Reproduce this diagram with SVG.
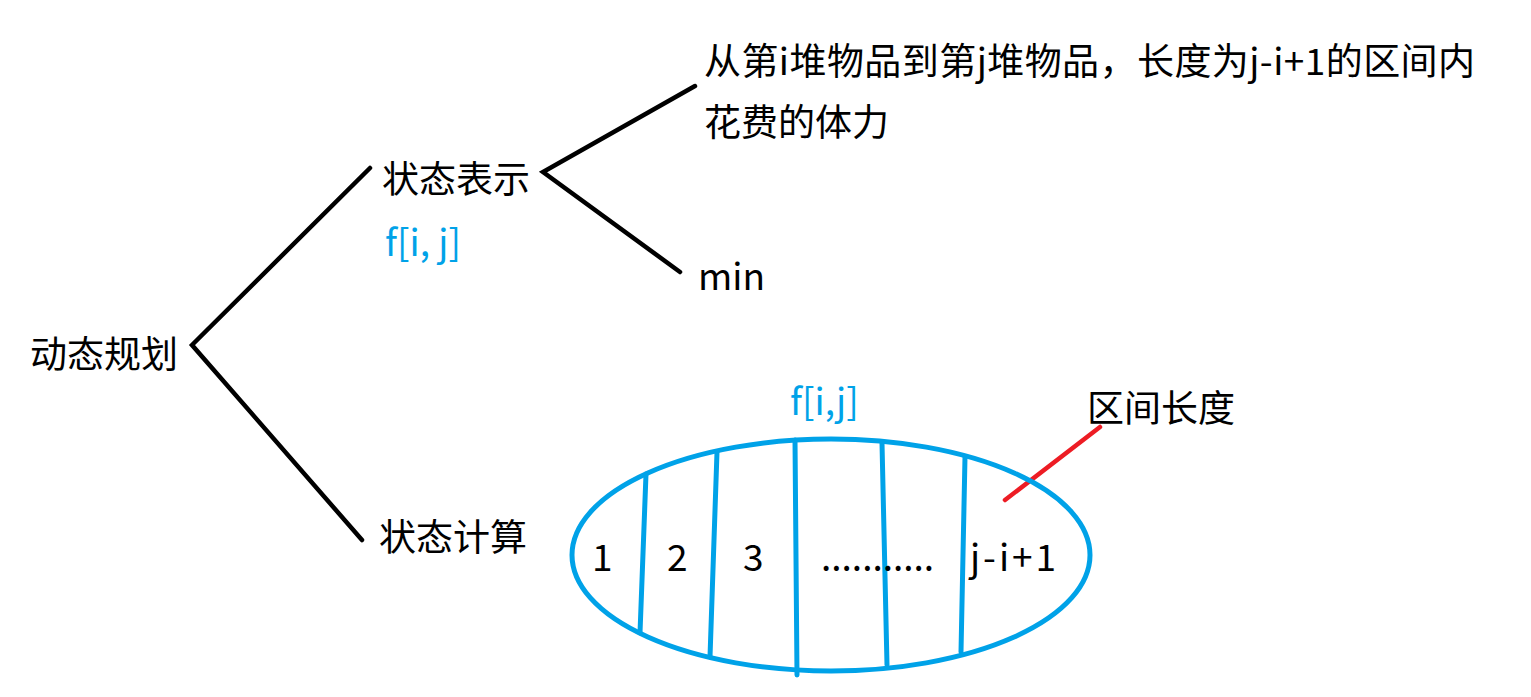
<svg xmlns="http://www.w3.org/2000/svg" width="1531" height="697" viewBox="0 0 1531 697">
<style>
text{font-family:"Noto Sans CJK SC","Noto Sans",sans-serif;font-size:37px;fill:#000}
.b{fill:#00a2e8}
.k{stroke:#000;stroke-width:4.5;fill:none;stroke-linecap:round}
.c{stroke:#00a2e8;stroke-width:5;fill:none;stroke-linecap:round}
.r{stroke:#ed1c24;stroke-width:4.5;fill:none;stroke-linecap:round}
</style>
<rect width="1531" height="697" fill="#fff"/>
<g id="connectors">
<path class="k" d="M370 168 L192 345 L362 540"/>
<path class="k" d="M695 86 L543 172 L680 272"/>
<path class="r" d="M1005 500 L1100 427"/>
</g>
<g id="root"><text x="30" y="368">动态规划</text></g>
<g id="repr">
<text x="382" y="193">状态表示</text>
<text class="b" x="385" y="256" font-size="32">f[i, j]</text>
</g>
<g id="desc">
<text x="704" y="75" textLength="771">从第i堆物品到第j堆物品，长度为j-i+1的区间内</text>
<text x="704" y="136">花费的体力</text>
</g>
<g id="min"><text x="698" y="290">min</text></g>
<g id="calc"><text x="379" y="551">状态计算</text></g>
<g id="interval">
<ellipse class="c" cx="831" cy="555" rx="259" ry="116"/>
<path class="c" d="M646 474 L640 633 M717 452 L710 657 M795 440 L797 675 M882 443 L887 665 M965 457 L961 652"/>
<text class="b" x="790" y="415" font-size="32">f[i,j]</text>
<text x="592" y="571" font-size="36">1</text>
<text x="667" y="571" font-size="36">2</text>
<text x="743" y="571" font-size="36">3</text>
<text x="821" y="571" font-size="36">...........</text>
<text x="970" y="571" font-size="36" textLength="86">j-i+1</text>
</g>
<g id="len"><text x="1087" y="422">区间长度</text></g>
</svg>
